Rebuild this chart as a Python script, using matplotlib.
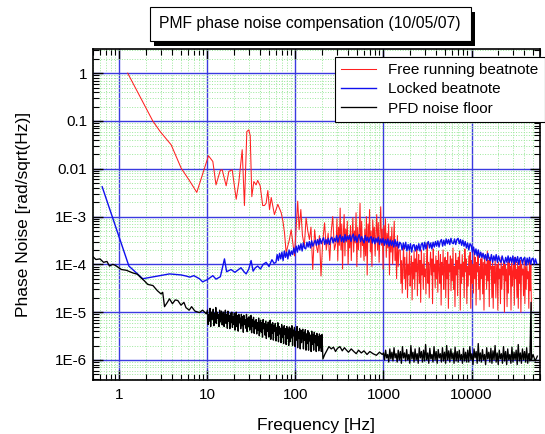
import numpy as np
import matplotlib.pyplot as plt
from matplotlib import patheffects
from matplotlib.ticker import LogLocator

plt.rcParams['font.family'] = ['Liberation Sans', 'DejaVu Sans']

# --- Free running beatnote (red) ---
red_f = [1.24, 2.39, 2.9, 3.87, 5.02, 6.3, 7.56, 10.26, 11.5, 12.5, 14.0, 14.7, 16.3, 17.5,
         19.1, 21.2, 22.7, 24.8, 26.3, 28.0, 29.5, 30.6, 31.9, 33.6, 35.7, 37.2, 39.7, 42.4,
         44.4, 46.4, 48.5, 50.7, 53, 57.6, 63, 68.8, 72, 75, 78.3, 85.3, 89.3, 97.4, 106, 110,
         115, 120, 126, 132, 138, 144, 150, 157, 165, 172, 179, 187, 195, 204, 214, 224, 235,
         245, 255, 265, 277]
red_v = [1.0, 0.1, 0.06, 0.0316, 0.0103, 0.0055, 0.0032, 0.0187, 0.0142, 0.0046, 0.0093, 0.0095,
         0.0044, 0.0088, 0.0095, 0.0023, 0.0052, 0.025, 0.0017, 0.06, 0.065, 0.049, 0.0026,
         0.0054, 0.0046, 0.0057, 0.0044, 0.0017, 0.0017, 0.0019, 0.0035, 0.0014, 0.0025, 0.0011,
         0.0018, 0.0012, 8e-4, 4.6e-4, 1.76e-4, 3.3e-4, 5.3e-4, 1.5e-4, 2.1e-3, 5.3e-4, 1.4e-3,
         4e-4, 2.4e-4, 9.3e-4, 5e-4, 3.3e-4, 6e-4, 7.8e-5, 5.3e-4, 2.5e-4, 1.76e-4, 4e-4, 5.7e-5,
         3e-4, 7.4e-4, 2e-4, 4.5e-4, 1.2e-4, 5e-4, 1e-3, 2e-4]
# 290 Hz .. 1500 Hz, units of 1e-5
red_mid = [30, 90, 12, 60, 25, 150, 20, 70, 8, 45, 110, 15, 55, 30, 80, 10, 40, 22, 65, 12,
           40, 95, 18, 50, 28, 120, 9, 60, 20, 45, 190, 14, 80, 25, 35, 12, 55, 15, 100, 6,
           70, 30, 140, 18, 50, 9, 85, 35, 60, 15, 45, 110, 20, 75, 11, 40, 160, 25, 55, 8,
           65, 28, 90, 14, 45, 22, 70, 6, 38, 18, 60, 10, 30, 80, 12, 25, 5, 40, 9, 20]
# 1500 Hz .. 48 kHz, units of 1e-5
red_high = [20, 4, 12, 2.5, 9, 25, 5, 14, 3, 7, 18, 2, 10, 6, 22, 3.5, 8, 15, 1.8, 11,
            5, 19, 3, 13, 7, 24, 2.2, 9, 16, 4, 12, 1.6, 20, 6, 10, 3, 17, 5.5, 8, 2.4,
            14, 28, 4, 11, 2, 9, 18, 6, 13, 1.5, 21, 7, 10, 3.2, 15, 5, 12, 2.6, 19, 8,
            4, 16, 1.4, 11, 6, 20, 3, 9, 14, 2, 12, 5, 18, 1.2, 10, 7, 15, 2.8, 13, 4.5,
            22, 3, 9, 1.3, 17, 6, 12, 2.2, 14, 8, 19, 1.1, 10, 4, 16, 5.5, 11, 2, 21, 7,
            13, 1.5, 9, 3.5, 15, 6, 18, 1.2, 12, 4, 10, 2.5, 20, 5, 14, 1.4, 11, 7, 16, 3,
            9, 1.8, 13, 5, 17, 2.4, 11, 1.1, 15, 6, 10, 3, 19, 4.5, 12, 1.3, 14, 8, 9, 2,
            12, 1.2, 9, 4, 13, 2, 7, 10, 1.1, 11, 5, 8, 1.5, 14, 3, 9, 6, 12, 1.0, 10,
            4.5, 8, 1.3, 11, 2.5, 13, 6, 9, 1.1, 12, 3.5, 7, 10, 1.4, 14, 5, 8, 2, 11, 1.2,
            9, 4, 12, 1.0, 10, 6, 8, 2.2, 13, 1.5, 9, 3, 11, 5, 7, 1.2, 12, 2.8, 10, 1.1]

# --- Locked beatnote (blue) ---
blue_f = [0.636, 1.28, 1.84, 3.7, 5.0, 5.7, 6.3, 7.0, 8.1, 8.8, 10.0, 11.5, 12.5, 14.0, 15.6,
          16.5, 18.5, 20.5, 22.0, 24.0, 26.0, 27.5, 29.5, 31.3, 33.0, 35.0, 37.2, 40.0, 43.0,
          46.4, 50.0, 54.0, 57.0]
blue_v = [4.2e-3, 9.2e-5, 5.0e-5, 6.3e-5, 6.0e-5, 5.7e-5, 5.4e-5, 5.8e-5, 5.0e-5, 4.3e-5,
          4.8e-5, 5.8e-5, 4.9e-5, 5.5e-5, 1.3e-4, 7.0e-5, 7.8e-5, 6.8e-5, 7.5e-5, 8.5e-5,
          7.0e-5, 6.3e-5, 8.0e-5, 1.2e-4, 7.2e-5, 8.5e-5, 9.2e-5, 8.0e-5, 1.0e-4, 1.1e-4,
          9.0e-5, 1.25e-4, 1.05e-4]
# 60 Hz .. 55 kHz, units of 1e-5
blue_dense = [11, 16, 12, 17, 13, 18, 12, 19, 14, 18, 13, 20, 15, 19, 16, 22, 17,
              24, 18, 25, 20, 27, 19, 28, 22, 21, 29, 23, 30, 22, 31, 24, 28, 32,
              25, 33, 26, 35, 27, 32, 36, 26, 33, 27, 35, 26, 34,
              37, 28, 35, 30, 40, 29, 36, 41, 30, 38, 29, 42, 31, 39, 33,
              41, 30, 38, 43, 31, 39, 29, 37, 42, 30, 38, 32, 28, 40, 31, 37, 29, 36,
              38, 28, 36, 27, 35, 29, 37, 26, 34, 28, 35, 25,
              33, 26, 34, 24, 32, 25, 31, 23, 33, 24, 30, 22, 29,
              27, 20, 28, 21, 29, 19, 26, 20, 27, 18, 25, 26, 19, 25,
              20, 27, 19, 26, 28, 20, 29, 21, 27, 30, 22, 28, 21, 29, 23, 30, 24,
              31, 23, 30, 33, 24, 32, 25, 34, 27, 33, 26, 35, 28, 27, 34, 26, 33,
              35, 27, 33, 25, 32, 24, 30, 22, 28, 20, 27,
              25, 18, 23, 16, 21, 15, 20, 14, 18, 14,
              17, 13, 16, 12, 17, 13, 12, 16, 11, 15, 12, 16, 11, 15, 12, 11, 15, 12, 10.5, 14,
              11, 15, 11, 14,
              11, 15, 10, 14, 11, 14.5, 10, 13.5, 14, 10.5, 13, 14, 9.5, 13.5, 10.5, 14, 10, 13,
              13.5, 10, 13, 10.5]

# --- PFD noise floor (black) ---
black_f = [0.5, 0.54, 0.6, 0.66, 0.72, 0.77, 0.84, 0.9, 1.05, 1.2, 1.42, 1.6, 1.76, 1.9, 2.1,
           2.4, 2.7, 2.97, 3.1, 3.25, 3.5, 3.7, 4.0, 4.3, 4.6, 5.0, 5.4, 5.7, 6.2, 6.6, 7.2,
           8.1, 8.8, 9.7]
black_v = [1.44e-4, 1.26e-4, 1.3e-4, 1.1e-4, 1.15e-4, 9.2e-5, 1.0e-4, 9.5e-5, 7.8e-5, 7.5e-5,
           6.6e-5, 6.2e-5, 5.2e-5, 4.6e-5, 3.8e-5, 3.6e-5, 2.8e-5, 2.4e-5, 2.6e-5, 1.3e-5,
           1.6e-5, 1.9e-5, 1.5e-5, 1.8e-5, 1.75e-5, 1.4e-5, 1.6e-5, 1.24e-5, 1.1e-5, 1.3e-5,
           1.05e-5, 9.8e-6, 1.1e-5, 9.2e-6]
# 10 Hz .. 200 Hz, units of 1e-6
black_band = [11, 5.5, 9, 6.5, 12, 5, 10, 7, 8, 11.5, 5.2, 9.5, 6, 12.5, 5.8, 10, 7.5, 9, 5, 11,
              6.2, 8.5, 10.5, 5.4, 9,
              10, 5, 8, 11, 5.8, 9, 4.6, 10.5, 6.5, 8.5, 4.5, 9.5, 6, 10, 4.8, 8, 5.5, 9.5, 4.2,
              7.5, 10, 5, 8.5, 4, 9, 6, 7.5, 4.5, 9, 5.2, 8, 3.8, 8.5, 5.5, 7, 4.6, 9, 3.9, 7.5,
              5, 8, 4.2, 6.8, 8.5, 3.7, 7, 5, 7.8, 3.6, 6.5, 4.5,
              7, 3.5, 6, 4.2, 7.5, 3.2, 5.5, 6.8, 3.8, 6, 3, 7, 4.5, 5.8, 3.3, 6.5, 2.8, 5.5, 4,
              6.2, 3, 5, 6.8, 2.7, 5.6, 3.6, 6, 2.6, 5.2, 4, 5.8, 2.5, 4.8, 3.3, 6, 2.4, 5, 3.5,
              4.6, 2.3, 5.5, 3, 4.8, 2.2, 5.2, 3.4, 4.5, 2.1, 5, 2.8, 4.4, 2, 4.9,
              2.4, 4.6, 2.9, 5.2, 2, 4.2, 3.2, 4.8, 1.9, 4, 2.6, 5, 1.8, 3.9, 2.8, 4.5, 1.7, 4.2,
              2.3, 3.6, 4.4, 1.7, 3.8, 2.6, 4.3, 1.6, 3.5, 2.2, 4.1, 1.6, 3.7, 2.5, 3.3, 1.5, 4,
              2.1, 3.4, 1.6, 3.8, 2.3, 3.2, 1.5, 3.6, 2, 3.1, 1.55, 3.5, 1.8, 3.2, 1.5, 3.4]
black_thin_f = [205, 215, 228, 240, 255, 270, 285, 300, 320, 340, 360, 380, 400, 430, 460, 490,
                520, 560, 600, 650, 700, 760, 830, 900, 970]
black_thin_v = [1.05, 1.3, 1.6, 1.9, 1.7, 1.85, 1.5, 1.75, 1.9, 1.55, 1.8, 1.6, 1.45, 1.7, 1.5,
                1.35, 1.6, 1.4, 1.55, 1.3, 1.5, 1.35, 1.25, 1.45, 1.3]
# 1 kHz .. 46 kHz, units of 1e-6
black_high = [1.4, 1.0, 1.6, 1.1, 1.3, 0.9, 1.7, 1.05, 1.45, 0.95, 1.8, 1.1, 1.35, 0.9, 1.6,
              1.0, 1.5, 0.85, 1.9, 1.1,
              1.4, 0.95, 1.65, 1.0, 1.3, 0.85, 2.0, 1.05, 1.45, 0.9, 1.7, 1.0, 1.35, 0.85, 1.8,
              1.1, 1.5, 0.9, 1.6, 0.95,
              2.1, 1.0, 1.4, 0.85, 1.75, 1.05, 1.3, 0.9, 1.9, 1.0, 1.5, 0.85, 1.65, 1.1, 1.35,
              0.9, 1.8, 0.95, 1.45, 0.85,
              2.0, 1.0, 1.55, 0.9, 1.7, 1.05, 1.4, 0.85, 1.85, 0.95, 1.5, 0.9, 1.6, 1.0, 1.3,
              0.85, 1.75, 0.95, 1.45, 0.9,
              1.6, 0.9, 1.9, 1.0, 1.35, 0.8, 1.7, 1.1, 1.5, 0.85, 2.2, 0.95, 1.4, 0.9, 1.65,
              1.0, 1.3, 0.8, 1.8, 1.05,
              1.45, 0.9, 1.75, 0.85, 1.55, 1.0, 2.0, 0.9, 1.4, 0.8, 1.6, 1.05, 1.35, 0.85, 1.9,
              0.95, 1.5, 0.8, 1.7, 1.0,
              1.3, 0.85, 1.85, 0.9, 1.45, 1.0, 1.6, 0.8, 2.1, 0.95, 1.4, 0.85, 1.7, 1.0, 1.5,
              0.9, 1.8, 0.85, 1.35, 0.95]
black_end_f = [47500, 48000, 50000, 53000, 56000]
black_end_v = [16, 1.0, 1.3, 0.95, 1.2]

# assemble series
red_x = np.concatenate([red_f, np.geomspace(290, 1500, len(red_mid)),
                        np.geomspace(1550, 48000, len(red_high))])
red_y = np.concatenate([red_v, np.array(red_mid) * 1e-5, np.array(red_high) * 1e-5])
blue_x = np.concatenate([blue_f, np.geomspace(60, 55000, len(blue_dense))])
blue_y = np.concatenate([blue_v, np.array(blue_dense) * 1e-5])
black_x = np.concatenate([black_f, np.geomspace(10, 200, len(black_band)), black_thin_f,
                          np.geomspace(1000, 46000, len(black_high)), black_end_f])
black_y = np.concatenate([black_v, np.array(black_band) * 1e-6, np.array(black_thin_v) * 1e-6,
                          np.array(black_high) * 1e-6, np.array(black_end_v) * 1e-6])

fig = plt.figure(figsize=(5.45, 4.34), dpi=100)
ax = fig.add_axes([0.1706, 0.1244, 0.8202, 0.7627])

ax.plot(red_x, red_y, color='#ff2020', lw=0.75, label='Free running beatnote')
ax.plot(blue_x, blue_y, color='#1010ee', lw=1.0, label='Locked beatnote')
ax.plot(black_x, black_y, color='black', lw=0.95, label='PFD noise floor')

ax.set_xscale('log')
ax.set_yscale('log')
ax.set_xlim(0.5, 60000)
ax.set_ylim(3.8e-7, 3.2)

ax.set_xticks([1, 10, 100, 1000, 10000])
ax.set_xticklabels(['1', '10', '100', '1000', '10000'])
ax.set_yticks([1e-6, 1e-5, 1e-4, 1e-3, 1e-2, 1e-1, 1])
ax.set_yticklabels(['1E-6', '1E-5', '1E-4', '1E-3', '0.01', '0.1', '1'])
ax.xaxis.set_minor_locator(LogLocator(base=10, subs=range(2, 10), numticks=100))
ax.yaxis.set_minor_locator(LogLocator(base=10, subs=range(2, 10), numticks=100))

ax.set_axisbelow(True)
ax.grid(which='minor', color='#9be89b', ls=':', lw=0.7)
ax.grid(which='major', color='#3a3ae0', ls='-', lw=1.0)

ax.tick_params(which='both', direction='in', top=True, right=True, labelsize=11)
ax.tick_params(which='major', length=7, width=1)
ax.tick_params(which='minor', length=4, width=0.8)
ax.tick_params(axis='x', pad=5.5)
ax.tick_params(axis='y', pad=4.3)
for s in ax.spines.values():
    s.set_linewidth(1.2)

ax.set_xlabel('Frequency [Hz]', fontsize=12.5)
ax.set_ylabel('Phase Noise [rad/sqrt(Hz)]', fontsize=12.5)
ax.xaxis.set_label_coords(0.5, -0.115)
ax.yaxis.set_label_coords(-0.139, 0.5)

leg = ax.legend(loc='upper left', bbox_to_anchor=(0.541, 0.976), fontsize=11,
                frameon=True, fancybox=False, edgecolor='black', framealpha=1,
                borderaxespad=0, handlelength=2.3, labelspacing=0.35)
leg.get_frame().set_linewidth(0.8)

t = fig.text(0.569, 0.945, 'PMF phase noise compensation (10/05/07)', ha='center',
             va='center', fontsize=11.3,
             bbox=dict(boxstyle='square,pad=0.62', fc='white', ec='black', lw=0.8))
t.get_bbox_patch().set_path_effects([
    patheffects.SimplePatchShadow(offset=(3.5, -3.5), shadow_rgbFace='black', alpha=1.0),
    patheffects.Normal()])

fig.savefig('out.png', dpi=100)
